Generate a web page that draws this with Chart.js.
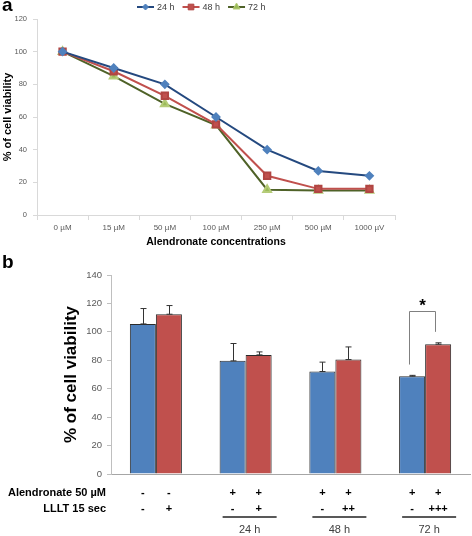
<!DOCTYPE html>
<html>
<head>
<meta charset="utf-8">
<script src="https://cdn.jsdelivr.net/npm/chart.js@4.4.1/dist/chart.umd.min.js"></script>
<style>
  body { margin: 0; background: #fff; width: 472px; height: 536px; overflow: hidden; position: relative; }
  #wrapA { position: absolute; left: 0; top: 0; width: 472px; height: 250px; }
  #wrapB { position: absolute; left: 0; top: 250px; width: 472px; height: 286px; }
</style>
</head>
<body>
<div id="wrapA"><canvas id="chartA" width="472" height="250"></canvas></div>
<div id="wrapB"><canvas id="chartB" width="472" height="286"></canvas></div>
<script>
// panel a data
var concLabels = ['0 µM', '15 µM', '50 µM', '100 µM', '250 µM', '500 µM', '1000 µV'];
var via24 = [100, 90, 80, 60, 40, 27, 24];
var via48 = [100, 88, 73, 55.5, 24, 16, 16];
var via72 = [100, 85, 68, 55, 15.5, 15, 15];
var yTicksA = [0, 20, 40, 60, 80, 100, 120];

// panel b data
var groupLabels = ['', '24 h', '48 h', '72 h'];
var noLaser = [105.6, 79.6, 72.1, 68.8];
var noLaserErr = [10.8, 12.2, 6.6, 0.6];
var laser = [112.4, 83.8, 80.5, 91.3];
var laserErr = [6.1, 2.1, 8.9, 1.0];
var yTicksB = [0, 20, 40, 60, 80, 100, 120, 140];
// signs under each bar, in bar order (group 1 blue, group 1 red, ...)
var rowAlendronate = ['-', '-', '+', '+', '+', '+', '+', '+'];
var rowLllt = ['-', '+', '-', '+', '-', '++', '-', '+++'];
// significance bracket on the 72 h group: left foot, top, right foot
var bracketVals = [77, 115, 100];

Chart.defaults.font.family = '"Liberation Sans", Arial, sans-serif';
Chart.defaults.color = '#595959';

var legendLine = {
  id: 'legendLine',
  afterDraw: function(chart) {
    var ctx = chart.ctx;
    var x = 137, y = 7;
    ctx.save();
    ctx.font = '9px "Liberation Sans", Arial, sans-serif';
    ctx.textBaseline = 'middle';
    chart.data.datasets.forEach(function(ds) {
      ctx.strokeStyle = ds.borderColor;
      ctx.lineWidth = 2;
      ctx.beginPath();
      ctx.moveTo(x, y);
      ctx.lineTo(x + 17, y);
      ctx.stroke();
      ctx.fillStyle = ds.pointBackgroundColor;
      ctx.strokeStyle = ds.pointBorderColor;
      ctx.lineWidth = 1;
      Chart.helpers.drawPoint(ctx, {
        pointStyle: ds.pointStyle, radius: ds.pointRadius - 0.5, borderWidth: 1, rotation: 0
      }, x + 8.5, y);
      ctx.fillStyle = '#404040';
      ctx.textAlign = 'left';
      ctx.fillText(ds.label, x + 20, y + 0.5);
      x += 20 + ctx.measureText(ds.label).width + 8;
    });
    ctx.fillStyle = '#000';
    ctx.font = 'bold 19px "Liberation Sans", Arial, sans-serif';
    ctx.textBaseline = 'alphabetic';
    ctx.fillText('a', 2, 11);
    ctx.restore();
  }
};

new Chart(document.getElementById('chartA'), {
  type: 'line',
  data: {
    labels: concLabels,
    datasets: [
      { label: '24 h', data: via24, borderColor: '#24497F', borderWidth: 2,
        pointStyle: 'rectRot', pointRadius: 3.5, pointBackgroundColor: '#4F81BD', pointBorderColor: '#4F81BD' },
      { label: '48 h', data: via48, borderColor: '#C0504D', borderWidth: 2,
        pointStyle: 'rect', pointRadius: 4.5, pointBackgroundColor: '#C0504D', pointBorderColor: '#B04542' },
      { label: '72 h', data: via72, borderColor: '#4F6228', borderWidth: 2,
        pointStyle: 'triangle', pointRadius: 4.5, pointBackgroundColor: '#9BBB59', pointBorderColor: '#B5CC78' }
    ]
  },
  options: {
    responsive: false,
    animation: false,
    layout: { padding: { top: 19, right: 77, left: 0, bottom: 0 } },
    plugins: { legend: { display: false }, tooltip: { enabled: false } },
    scales: {
      x: {
        offset: true,
        grid: { offset: true, drawOnChartArea: false, drawTicks: true, tickLength: 5, color: '#d9d9d9' },
        border: { color: '#d9d9d9' },
        ticks: { font: { size: 8 }, padding: 3, maxRotation: 0, color: '#595959' },
        title: { display: true, text: 'Alendronate concentrations', color: '#000',
                 font: { size: 10.5, weight: 'bold' }, padding: { top: 0, bottom: 2 } },
        afterFit: function(s) { s.height = 35; }
      },
      y: {
        min: 0, max: 120,
        afterBuildTicks: function(s) { s.ticks = yTicksA.map(function(v) { return { value: v }; }); },
        grid: { drawOnChartArea: false, drawTicks: true, tickLength: 4, color: '#d9d9d9' },
        border: { color: '#d9d9d9' },
        ticks: { font: { size: 7.5 }, padding: 6, color: '#595959' },
        title: { display: true, text: '% of cell viability', color: '#000',
                 font: { size: 11, weight: 'bold' }, padding: { top: 1, bottom: 0 } },
        afterFit: function(s) { s.width = 37; }
      }
    }
  },
  plugins: [legendLine]
});

var barExtras = {
  id: 'barExtras',
  afterDatasetsDraw: function(chart) {
    var ctx = chart.ctx;
    var ys = chart.scales.y;
    var errs = [noLaserErr, laserErr];
    ctx.save();
    ctx.strokeStyle = '#333';
    ctx.lineWidth = 1;
    chart.data.datasets.forEach(function(ds, i) {
      chart.getDatasetMeta(i).data.forEach(function(bar, j) {
        var x = Math.round(bar.x) + 0.5;
        var y0 = ys.getPixelForValue(ds.data[j]);
        var y1 = ys.getPixelForValue(ds.data[j] + errs[i][j]);
        ctx.beginPath();
        ctx.moveTo(x, y0); ctx.lineTo(x, y1);
        ctx.moveTo(x - 3, y1); ctx.lineTo(x + 3, y1);
        ctx.moveTo(x - 3, y0); ctx.lineTo(x + 3, y0);
        ctx.stroke();
      });
    });

    // significance bracket
    var bl = chart.getDatasetMeta(0).data[3], br = chart.getDatasetMeta(1).data[3];
    var xl = Math.round(bl.x) - 2.5, xr = Math.round(br.x) - 2.5;
    var yTop = Math.round(ys.getPixelForValue(bracketVals[1])) + 0.5;
    ctx.strokeStyle = '#808080';
    ctx.beginPath();
    ctx.moveTo(xl, ys.getPixelForValue(bracketVals[0]));
    ctx.lineTo(xl, yTop);
    ctx.lineTo(xr, yTop);
    ctx.lineTo(xr, ys.getPixelForValue(bracketVals[2]));
    ctx.stroke();
    ctx.fillStyle = '#000';
    ctx.font = 'bold 17px "Liberation Sans", Arial, sans-serif';
    ctx.textAlign = 'center';
    ctx.textBaseline = 'alphabetic';
    ctx.fillText('*', (xl + xr) / 2, yTop - 1);
    ctx.restore();
  },
  afterDraw: function(chart) {
    var ctx = chart.ctx;
    ctx.save();
    ctx.fillStyle = '#000';
    ctx.textBaseline = 'middle';
    ctx.font = 'bold 11px "Liberation Sans", Arial, sans-serif';
    ctx.textAlign = 'right';
    ctx.fillText('Alendronate 50 µM', 106, 243);
    ctx.fillText('LLLT 15 sec', 106, 259);
    ctx.textAlign = 'center';
    for (var k = 0; k < rowAlendronate.length; k++) {
      var bar = chart.getDatasetMeta(k % 2).data[Math.floor(k / 2)];
      ctx.fillText(rowAlendronate[k], bar.x, 243);
      ctx.fillText(rowLllt[k], bar.x, 259);
    }
    ctx.strokeStyle = '#222';
    ctx.lineWidth = 1.5;
    chart.data.labels.forEach(function(lab, g) {
      if (!lab) return;
      var c = chart.scales.x.getPixelForValue(g) + 4;
      ctx.beginPath();
      ctx.moveTo(c - 27, 267); ctx.lineTo(c + 27, 267);
      ctx.stroke();
      ctx.fillStyle = '#404040';
      ctx.font = '11px "Liberation Sans", Arial, sans-serif';
      ctx.fillText(lab, c, 280);
    });
    ctx.fillStyle = '#000';
    ctx.font = 'bold 19px "Liberation Sans", Arial, sans-serif';
    ctx.textAlign = 'left';
    ctx.textBaseline = 'alphabetic';
    ctx.fillText('b', 2, 18);
    ctx.restore();
  }
};

new Chart(document.getElementById('chartB'), {
  type: 'bar',
  data: {
    labels: groupLabels,
    datasets: [
      { label: 'Without LLLT', data: noLaser, backgroundColor: '#4F81BD', borderColor: '#2b2b2b', borderWidth: 1,
        categoryPercentage: 0.58, barPercentage: 1.0 },
      { label: 'With LLLT', data: laser, backgroundColor: '#C0504D', borderColor: '#2b2b2b', borderWidth: 1,
        categoryPercentage: 0.58, barPercentage: 1.0 }
    ]
  },
  options: {
    responsive: false,
    animation: false,
    layout: { padding: { top: 25, right: 2, left: 0, bottom: 0 } },
    plugins: { legend: { display: false }, tooltip: { enabled: false } },
    scales: {
      x: {
        grid: { display: false },
        border: { color: '#a6a6a6' },
        ticks: { display: false },
        afterFit: function(s) { s.height = 62; }
      },
      y: {
        min: 0, max: 140,
        afterBuildTicks: function(s) { s.ticks = yTicksB.map(function(v) { return { value: v }; }); },
        grid: { drawOnChartArea: false, drawTicks: true, tickLength: 4, color: '#bfbfbf' },
        border: { color: '#bfbfbf' },
        ticks: { font: { size: 9.5 }, padding: 5, color: '#595959' },
        title: { display: true, text: '% of cell viability', color: '#000',
                 font: { size: 17, weight: 'bold' }, padding: { top: 61, bottom: 0 } },
        afterFit: function(s) { s.width = 111; }
      }
    }
  },
  plugins: [barExtras]
});
</script>
</body>
</html>
